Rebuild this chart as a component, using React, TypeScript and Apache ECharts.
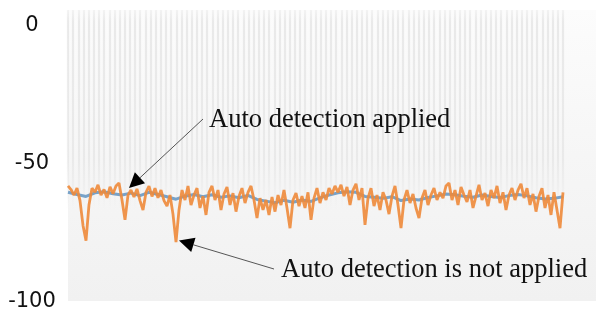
import React, { useEffect, useRef } from 'react';
import * as echarts from 'echarts';

// y-axis tick labels
const yTicks = [-100, -50, 0];

// Orange: auto detection NOT applied (noisy)
const notApplied = [
  -58.7, -60, -62, -59.5, -64, -73, -78.5, -65.5, -59.5, -61,
  -58.3, -62, -60, -63, -59, -61.5, -58.7, -57.6, -63.8, -71,
  -62, -60.2, -62.7, -59.8, -64, -67.4, -61, -58.8, -62.5, -59.5,
  -63, -60.2, -64, -66, -62, -69, -79, -67.4, -60.2, -63.8,
  -58.7, -65.6, -62, -59.5, -66.7, -62.4, -69.2, -61, -58.7, -63.8,
  -60.2, -67.4, -61.6, -59.1, -65.6, -61.3, -68, -62.4, -59.5, -64.9,
  -61, -58.7, -63.8, -70.3, -63.1, -67.4, -63.8, -69.2, -62.7, -68,
  -62, -65.6, -60.2, -66.7, -74, -63.8, -61.3, -66, -62.4, -66.7,
  -61, -71, -63.1, -59.5, -64.9, -61, -63.8, -59.5, -61.6, -58.7,
  -61, -58.3, -62.4, -59.1, -65.6, -60.2, -57.9, -63.8, -59.5, -72.8,
  -63.1, -59.5, -66, -62, -67.4, -61, -63.8, -68.9, -62.4, -58.7,
  -65.6, -74, -63.8, -60.2, -64.9, -61.6, -66.7, -70.3, -63.1, -60.2,
  -65.6, -62, -59.5, -63.8, -61, -63.1, -58.7, -57.6, -63.8, -60.2,
  -65.6, -59.1, -62, -64.5, -60.2, -66.7, -62.4, -58.3, -63.8, -61.3,
  -66, -60.2, -63.1, -58.7, -64.9, -61, -67.4, -62, -59.5, -63.8,
  -60.2, -57.9, -63.1, -59.5, -65.6, -61.6, -68, -62.4, -59.5, -66.7,
  -62, -69.2, -61, -67.4, -74, -61,
];

// Blue: auto detection applied (smoother), sampled every 3rd sample
const appliedStep = 3;
const applied = [
  -61.0, -61.8, -62.5, -61.2, -60.8, -61.5, -62.0, -61.3, -62.2, -61.0,
  -61.8, -62.6, -63.5, -62.4, -61.8, -62.6, -61.9, -62.8, -62.3, -63.0,
  -62.1, -63.6, -64.2, -64.8, -63.9, -64.6, -63.8, -64.3, -63.0, -62.0,
  -61.2, -60.8, -61.0, -62.5, -62.8, -63.2, -62.6, -64.0, -63.4, -63.8,
  -62.9, -62.3, -61.6, -61.9, -62.4, -62.8, -62.0, -62.5, -62.9, -62.2,
  -61.8, -62.3, -63.0, -63.4, -63.2, -62.6,
];

const categories = notApplied.map((_, i) => String(i));
const stripeCount = 96;

const labelApplied = 'Auto detection applied';
const labelNotApplied = 'Auto detection is not applied';

function arrowHead(tip: [number, number], from: [number, number], len: number, half: number) {
  const dx = from[0] - tip[0];
  const dy = from[1] - tip[1];
  const d = Math.sqrt(dx * dx + dy * dy);
  const ux = dx / d;
  const uy = dy / d;
  const bx = tip[0] + ux * len;
  const by = tip[1] + uy * len;
  const px = -uy * half;
  const py = ux * half;
  return {
    points: [tip, [bx + px, by + py], [bx - px, by - py]],
    base: [bx, by] as [number, number],
  };
}

export default function App() {
  const ref = useRef<HTMLDivElement>(null);

  useEffect(() => {
    if (!ref.current) return;
    const chart = echarts.init(ref.current, null, { renderer: 'svg' });

    const a1From: [number, number] = [203, 119];
    const a1 = arrowHead([129, 188], a1From, 15, 7.5);
    const a2From: [number, number] = [274, 269];
    const a2 = arrowHead([179, 240.5], a2From, 15, 7.5);

    const serif = '26.5px "Liberation Serif", "Times New Roman", serif';

    chart.setOption({
      animation: false,
      grid: { left: 68, right: 33, top: 10, bottom: 16, containLabel: false },
      xAxis: [
        {
          type: 'category',
          data: categories,
          boundaryGap: false,
          axisLine: { show: false },
          axisTick: { show: false },
          axisLabel: { show: false },
          splitLine: { show: false },
        },
        {
          type: 'value',
          min: 0,
          max: stripeCount,
          interval: 1,
          position: 'top',
          axisLine: { show: false },
          axisTick: { show: false },
          axisLabel: { show: false },
          splitLine: {
            show: true,
            lineStyle: {
              width: 2.2,
              color: {
                type: 'linear',
                x: 0,
                y: 10,
                x2: 0,
                y2: 210,
                global: true,
                colorStops: [
                  { offset: 0, color: 'rgba(215,215,215,0.25)' },
                  { offset: 0.06, color: 'rgba(215,215,215,0.5)' },
                  { offset: 0.75, color: 'rgba(215,215,215,0.4)' },
                  { offset: 1, color: 'rgba(215,215,215,0)' },
                ],
              },
            },
          },
        },
      ],
      yAxis: {
        type: 'value',
        min: -100,
        max: 5,
        interval: 50,
        axisLine: { show: false },
        axisTick: { show: false },
        splitLine: { show: false },
        axisLabel: {
          showMaxLabel: false,
          align: 'center',
          margin: 36,
          color: '#111',
          fontSize: 21,
          fontFamily: '"DejaVu Sans", sans-serif',
          formatter: (v: number) => (yTicks.indexOf(v) >= 0 ? String(v) : ''),
        },
      },
      series: [
        {
          name: 'applied',
          type: 'line',
          xAxisIndex: 0,
          data: applied.map((v, i) => [i * appliedStep, v]),
          symbol: 'none',
          lineStyle: { color: '#78a2c8', width: 3 },
          z: 2,
        },
        {
          name: 'notApplied',
          type: 'line',
          xAxisIndex: 0,
          data: notApplied,
          symbol: 'none',
          lineStyle: { color: '#ee8a3a', width: 2.8, opacity: 0.9 },
          z: 3,
        },
      ],
      graphic: {
        elements: [
          {
            type: 'rect',
            z: -10,
            silent: true,
            shape: { x: 68, y: 10, width: 528, height: 291 },
            style: {
              fill: {
                type: 'linear',
                x: 0,
                y: 0,
                x2: 0,
                y2: 1,
                colorStops: [
                  { offset: 0, color: '#fcfcfc' },
                  { offset: 0.5, color: '#f6f6f6' },
                  { offset: 1, color: '#f1f1f1' },
                ],
              },
            },
          },
          {
            type: 'line',
            z: 100,
            shape: { x1: a1From[0], y1: a1From[1], x2: a1.base[0], y2: a1.base[1] },
            style: { stroke: '#555', lineWidth: 1 },
          },
          {
            type: 'polygon',
            z: 100,
            shape: { points: a1.points },
            style: { fill: '#000' },
          },
          {
            type: 'line',
            z: 100,
            shape: { x1: a2From[0], y1: a2From[1], x2: a2.base[0], y2: a2.base[1] },
            style: { stroke: '#555', lineWidth: 1 },
          },
          {
            type: 'polygon',
            z: 100,
            shape: { points: a2.points },
            style: { fill: '#000' },
          },
          {
            type: 'text',
            z: 100,
            x: 209,
            y: 118,
            style: {
              text: labelApplied,
              font: serif,
              fill: '#111',
              textAlign: 'left',
              textVerticalAlign: 'middle',
            },
          },
          {
            type: 'text',
            z: 100,
            x: 281,
            y: 268,
            style: {
              text: labelNotApplied,
              font: serif,
              fill: '#111',
              textAlign: 'left',
              textVerticalAlign: 'middle',
            },
          },
        ],
      },
    });

    return () => chart.dispose();
  }, []);

  return (
    <div
      ref={ref}
      style={{ position: 'fixed', left: 0, top: 0, width: 596, height: 316 }}
    />
  );
}
